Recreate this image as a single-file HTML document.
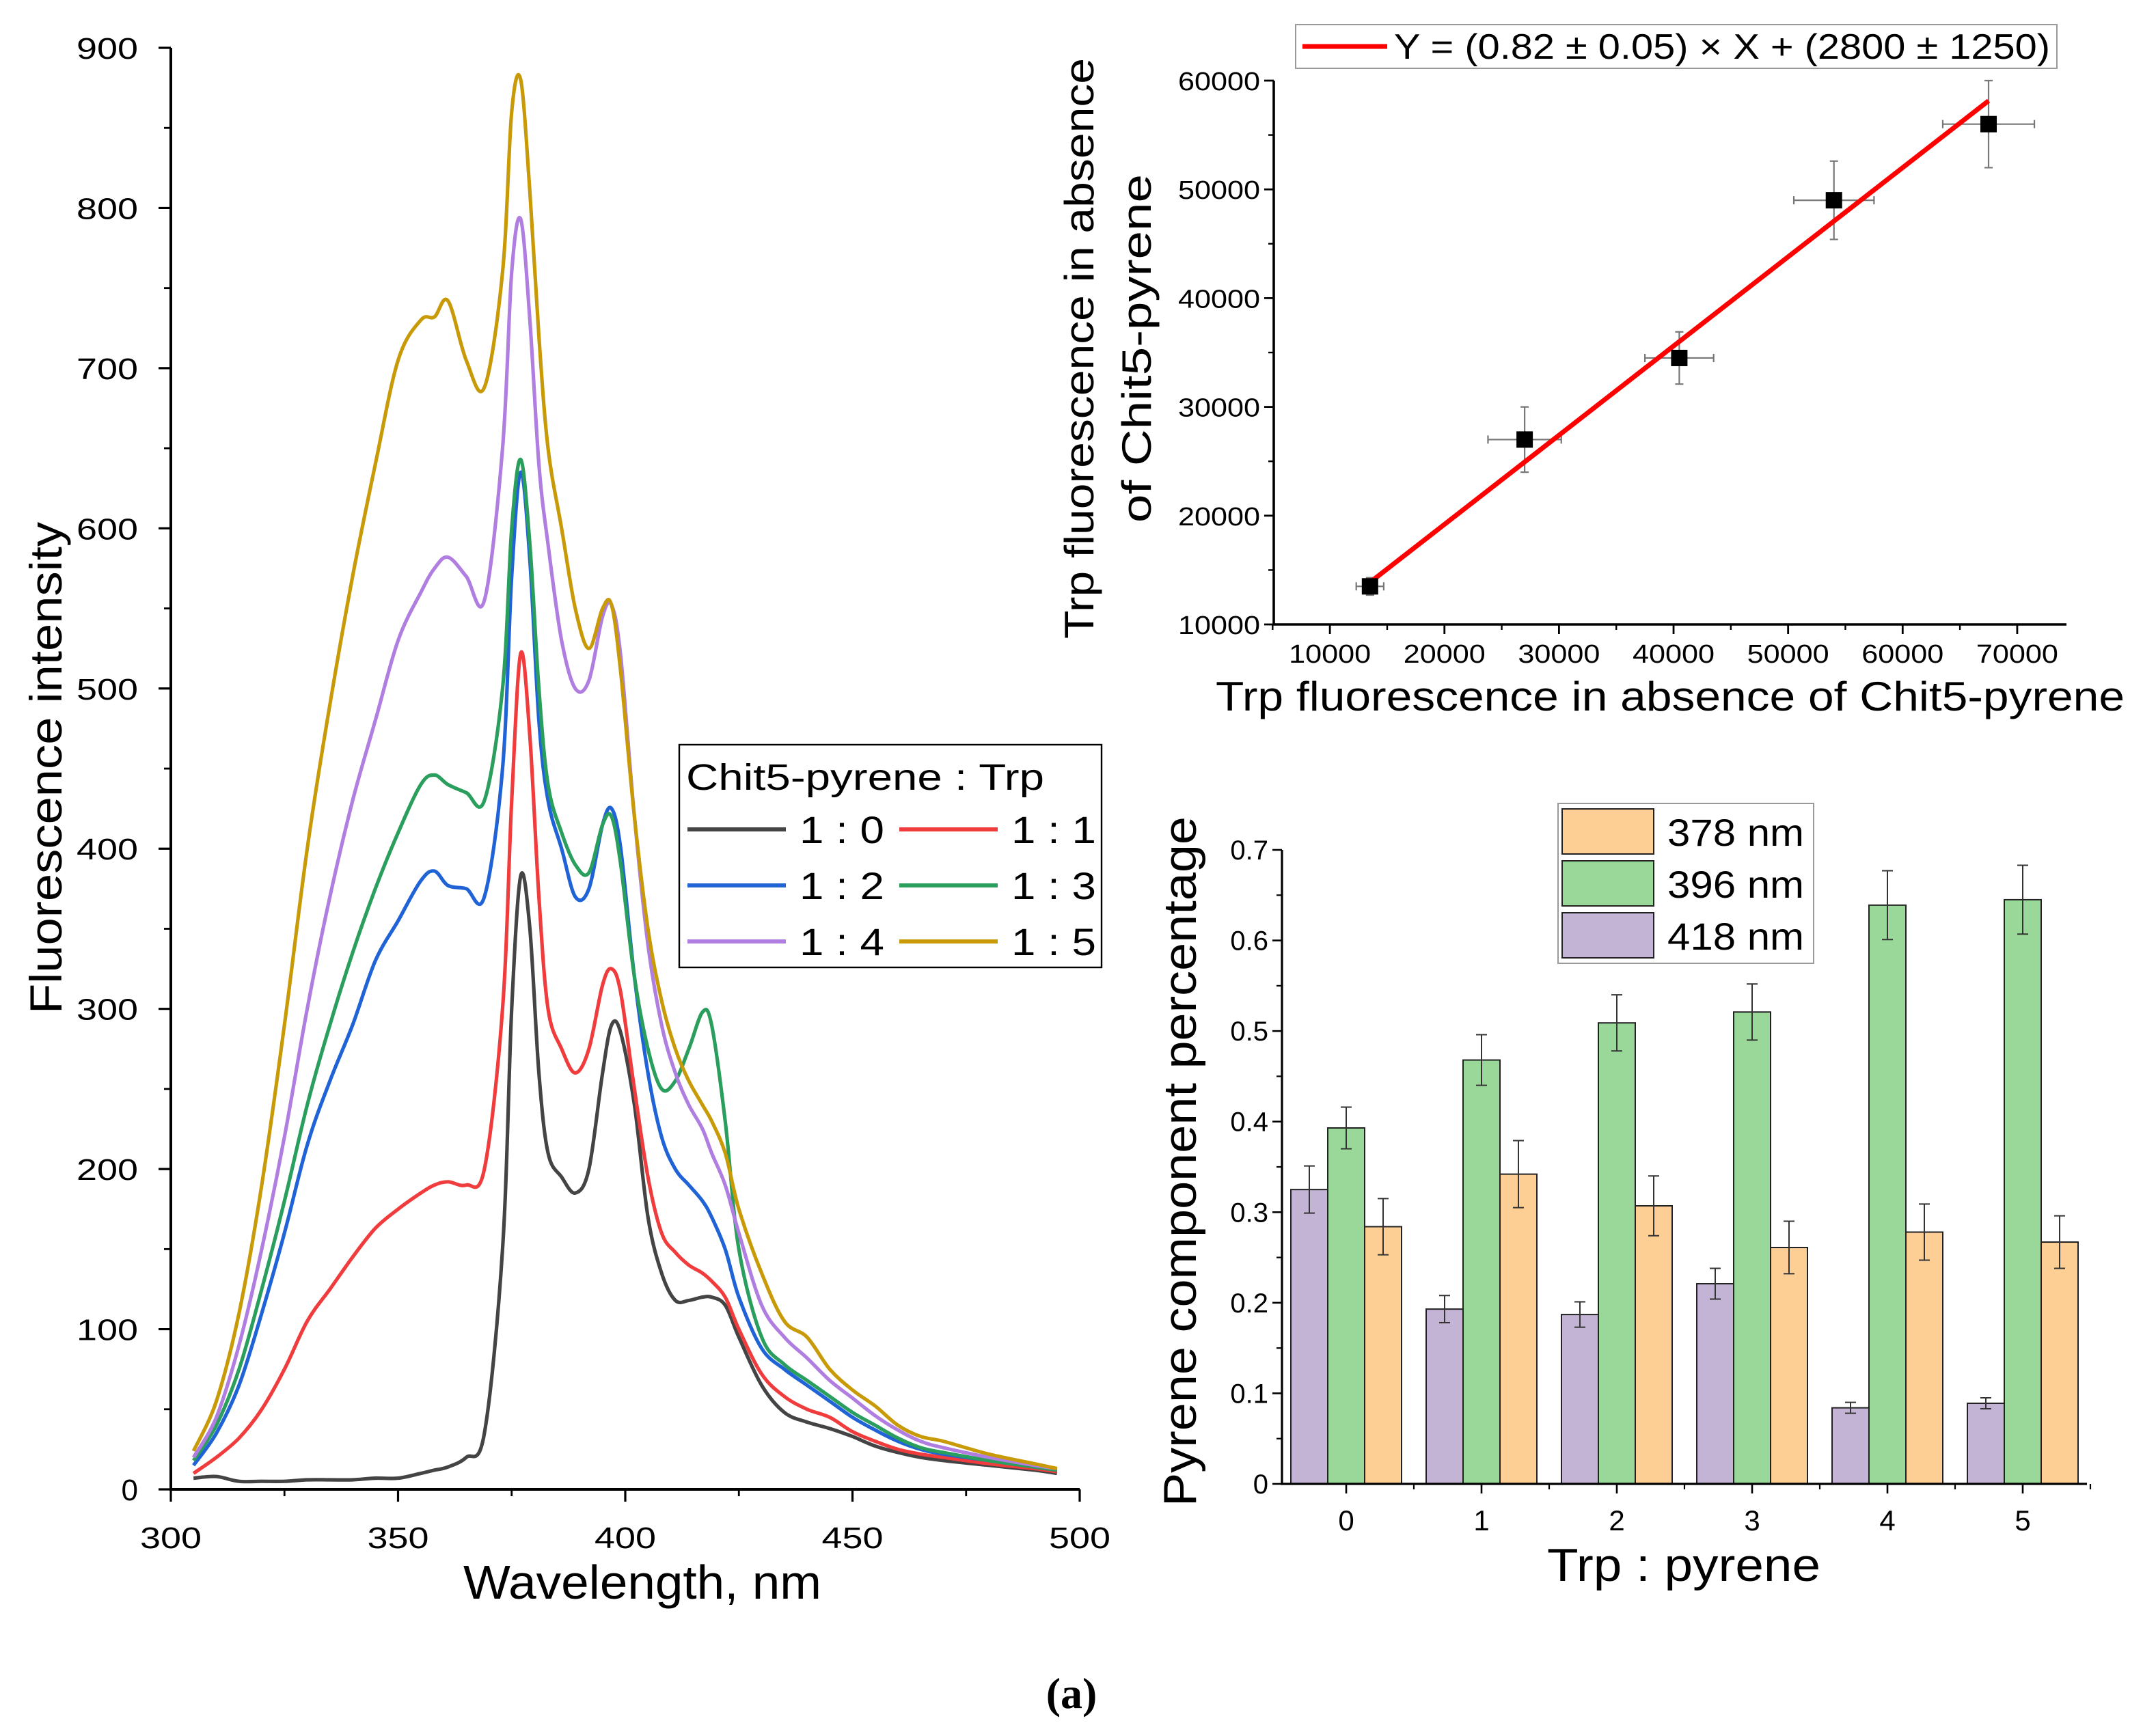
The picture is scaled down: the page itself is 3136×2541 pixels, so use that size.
<!DOCTYPE html>
<html><head><meta charset="utf-8"><style>
html,body{margin:0;padding:0;background:#fff;}
svg{display:block;font-family:"Liberation Sans",Arial,sans-serif;}
</style></head><body>
<svg id="fig" width="3136" height="2541" viewBox="0 0 1568 1270.5" xmlns="http://www.w3.org/2000/svg">
<rect x="0" y="0" width="1568" height="1270.5" fill="#fff"/>
<g id="spec"></g>
<g id="scat"></g>
<g id="bars"></g>
<text x="784" y="1250" text-anchor="middle" font-family="Liberation Serif,serif" font-weight="bold" font-size="32">(a)</text>
</svg>
<script>
// ---------- Spectra data ----------
const wl = [305,310,315,320,325,330,335,340,345,350,355,358,361,365,369,373,375,377,379,381,383,386,389,392,395,397,399,402,405,408,411,414,417,419,422,425,430,435,440,445,450,455,460,465,470,480,490,495];
const s10 = [7,8,5,5,5,6,6,6,7,7,10,12,14,20,35,150,300,383,350,260,210,195,185,200,260,290,285,240,170,135,118,118,120,120,115,95,65,48,42,38,33,27,23,20,18,15,12,10];
const s11 = [10,20,32,50,75,105,125,145,163,175,185,190,192,190,200,300,430,522,470,370,300,275,260,275,315,325,310,250,195,160,148,140,135,130,120,100,72,58,50,45,36,30,25,22,20,16,13,11];
const s12 = [15,35,65,110,160,215,255,290,330,355,380,386,377,375,370,450,570,635,580,480,430,400,370,375,415,425,400,320,260,220,200,190,180,170,150,120,88,75,65,55,45,37,30,25,22,18,14,12];
const s13 = [18,40,75,125,180,240,290,335,375,410,440,446,440,435,430,500,600,643,590,500,440,410,390,385,415,420,390,320,275,250,255,275,298,290,230,150,95,78,68,58,48,40,32,26,23,18,14,12];
const s14 = [20,45,90,150,220,300,370,430,480,530,560,575,582,570,555,650,760,793,730,640,590,530,500,505,545,552,520,420,340,290,260,240,225,210,190,160,115,95,82,68,57,46,37,30,26,20,15,13];
const s15 = [24,55,110,190,290,400,490,570,640,705,730,732,742,705,688,760,860,880,810,720,650,600,550,525,550,552,510,420,350,305,275,255,240,230,210,175,135,105,95,75,62,52,40,33,30,22,16,13];
const specNames = ["1 : 0","1 : 1","1 : 2","1 : 3","1 : 4","1 : 5"];
const specColors = ["#444444","#f03c3c","#1f63d6","#2a9e5c","#b07ee0","#c99a08"];
const specTicksX = [300,350,400,450,500];
const specTicksY = [0,100,200,300,400,500,600,700,800,900];

// ---------- Scatter data ----------
const scX = [13500,27000,40500,54000,67500];
const scY = [13500,27000,34500,49000,56000];
const scXErr = [1200,3200,3000,3500,4000];
const scYErr = [800,3000,2400,3600,4000];
const fitSlope = [0.82];
const fitIntercept = [2800];
const scTicksX = [10000,20000,30000,40000,50000,60000,70000];
const scTicksY = [10000,20000,30000,40000,50000,60000];

// ---------- Bar data ----------
const barCats = ["0","1","2","3","4","5"];
const bar418 = [0.325,0.193,0.187,0.221,0.084,0.089];
const err418 = [0.026,0.015,0.014,0.017,0.006,0.006];
const bar396 = [0.393,0.468,0.509,0.521,0.639,0.645];
const err396 = [0.023,0.028,0.031,0.031,0.038,0.038];
const bar378 = [0.284,0.342,0.307,0.261,0.278,0.267];
const err378 = [0.031,0.037,0.033,0.029,0.031,0.029];
const barTicksY = [0,0.1,0.2,0.3,0.4,0.5,0.6,0.7];

const NS="http://www.w3.org/2000/svg";
function mk(parent,tag,attrs,text){const e=document.createElementNS(NS,tag);for(const k in attrs)e.setAttribute(k,attrs[k]);if(text!==undefined)e.textContent=text;parent.appendChild(e);return e;}
function smoothPath(P){
  let d=`M${P[0][0].toFixed(1)},${P[0][1].toFixed(1)}`;
  for(let i=0;i<P.length-1;i++){
    const p0=P[Math.max(0,i-1)],p1=P[i],p2=P[i+1],p3=P[Math.min(P.length-1,i+2)];
    const c1x=p1[0]+(p2[0]-p0[0])/6,c1y=p1[1]+(p2[1]-p0[1])/6;
    const c2x=p2[0]-(p3[0]-p1[0])/6,c2y=p2[1]-(p3[1]-p1[1])/6;
    d+=` C${c1x.toFixed(1)},${c1y.toFixed(1)} ${c2x.toFixed(1)},${c2y.toFixed(1)} ${p2[0].toFixed(1)},${p2[1].toFixed(1)}`;
  }
  return d;
}

// ===== Spectra chart =====
(function(){
const g=document.getElementById('spec');
const X0=125,X1=790,Y0=1090,Y1=35;
const sx=v=>X0+(v-300)/200*(X1-X0);
const sy=v=>Y0-(v/900)*(Y0-Y1);
const series=[s10,s11,s12,s13,s14,s15];
series.forEach((s,i)=>{
  const P=wl.map((w,j)=>[sx(w),sy(s[j])]);
  const p=mk(g,'path',{d:smoothPath(P),fill:'none',stroke:specColors[i],'stroke-width':2.6,'stroke-linejoin':'round'});
  
  
});
const ax=mk(g,'path',{d:`M${X0},${Y1} V${Y0} H${X1}`,fill:'none',stroke:'#000','stroke-width':2});


specTicksY.forEach(v=>{
  mk(g,'line',{x1:X0-9,x2:X0,y1:sy(v),y2:sy(v),stroke:'#000','stroke-width':1.6});
  if(v<900) mk(g,'line',{x1:X0-5,x2:X0,y1:sy(v+50),y2:sy(v+50),stroke:'#000','stroke-width':1.4});
  const a={x:X0-24,y:sy(v)+8,'text-anchor':'end','font-size':22};
  if(v>0){a.textLength=45;a.lengthAdjust='spacingAndGlyphs';}
  const t=mk(g,'text',a,String(v));
  
  
});
specTicksX.forEach(v=>{
  mk(g,'line',{x1:sx(v),x2:sx(v),y1:Y0,y2:Y0+9,stroke:'#000','stroke-width':1.6});
  if(v<500) mk(g,'line',{x1:sx(v+25),x2:sx(v+25),y1:Y0,y2:Y0+5,stroke:'#000','stroke-width':1.4});
  const t=mk(g,'text',{x:sx(v),y:Y0+43,'text-anchor':'middle','font-size':22,textLength:45,lengthAdjust:'spacingAndGlyphs'},String(v));
  
  
});
const xt=mk(g,'text',{x:470,y:1170,'text-anchor':'middle','font-size':35,textLength:262,lengthAdjust:'spacingAndGlyphs'},'Wavelength, nm');


const yt=mk(g,'text',{x:0,y:0,'text-anchor':'middle','font-size':33,transform:'translate(45,562) rotate(-90)',textLength:360,lengthAdjust:'spacingAndGlyphs'},'Fluorescence intensity');


// legend
const lg=mk(g,'g',{});


mk(lg,'rect',{x:497,y:545,width:309,height:163,fill:'#fff',stroke:'#000','stroke-width':1.2});
mk(lg,'text',{x:502,y:578,'font-size':27,textLength:262,lengthAdjust:'spacingAndGlyphs'},'Chit5-pyrene : Trp');
const rows=[607,648,689];
specNames.forEach((n,i)=>{
  const r=Math.floor(i/2),c=i%2;
  const lx=c?658:503, tx=c?740:585, y=rows[r];
  const ln=mk(lg,'line',{x1:lx,x2:lx+72,y1:y,y2:y,stroke:specColors[i],'stroke-width':3});
  
  
  const t=mk(lg,'text',{x:tx,y:y+10,'font-size':28,textLength:62,lengthAdjust:'spacingAndGlyphs'},n);
  
  
});
})();

// ===== Scatter chart =====
(function(){
const g=document.getElementById('scat');
const X0=932,X1=1512,Y0=457,Y1=59;
const xmin=5100,xmax=74300,ymin=10000,ymax=60000;
const sx=v=>X0+(v-xmin)/(xmax-xmin)*(X1-X0);
const sy=v=>Y0-(v-ymin)/(ymax-ymin)*(Y0-Y1);
const ax=mk(g,'path',{d:`M${X0},${Y1} V${Y0} H${X1}`,fill:'none',stroke:'#000','stroke-width':1.8});


scTicksY.forEach(v=>{
  mk(g,'line',{x1:X0-7,x2:X0,y1:sy(v),y2:sy(v),stroke:'#000','stroke-width':1.4});
  if(v<60000) mk(g,'line',{x1:X0-4,x2:X0,y1:sy(v+5000),y2:sy(v+5000),stroke:'#000','stroke-width':1.2});
  const t=mk(g,'text',{x:X0-10,y:sy(v)+7,'text-anchor':'end','font-size':19,textLength:60,lengthAdjust:'spacingAndGlyphs'},String(v));
  
  
});
scTicksX.forEach(v=>{
  mk(g,'line',{x1:sx(v),x2:sx(v),y1:Y0,y2:Y0+7,stroke:'#000','stroke-width':1.4});
  mk(g,'line',{x1:sx(v-5000),x2:sx(v-5000),y1:Y0,y2:Y0+4,stroke:'#000','stroke-width':1.2});
  const t=mk(g,'text',{x:sx(v),y:Y0+28,'text-anchor':'middle','font-size':19,textLength:60,lengthAdjust:'spacingAndGlyphs'},String(v));
  
  
});
scX.forEach((x,i)=>{
  const y=scY[i];
  const e=mk(g,'path',{d:`M${sx(x-scXErr[i])},${sy(y)} H${sx(x+scXErr[i])} M${sx(x-scXErr[i])},${sy(y)-3} v6 M${sx(x+scXErr[i])},${sy(y)-3} v6 M${sx(x)},${sy(y-scYErr[i])} V${sy(y+scYErr[i])} M${sx(x)-3},${sy(y-scYErr[i])} h6 M${sx(x)-3},${sy(y+scYErr[i])} h6`,stroke:'#777',fill:'none','stroke-width':1.1});
  
  
});
const fx0=scX[0],fx1=scX[scX.length-1];
const fl=mk(g,'line',{x1:sx(fx0),y1:sy(fitSlope[0]*fx0+fitIntercept[0]),x2:sx(fx1),y2:sy(fitSlope[0]*fx1+fitIntercept[0]),stroke:'#f00','stroke-width':3.5});


scX.forEach((x,i)=>{
  const p=mk(g,'rect',{x:sx(x)-6,y:sy(scY[i])-6,width:12,height:12,fill:'#000'});
  
  
});
const yt=mk(g,'text',{x:0,y:0,'text-anchor':'middle','font-size':30,transform:'translate(800,255) rotate(-90)',textLength:425,lengthAdjust:'spacingAndGlyphs'},'Trp fluorescence in absence');


const yt2=mk(g,'text',{x:0,y:0,'text-anchor':'middle','font-size':30,transform:'translate(842,255) rotate(-90)',textLength:255,lengthAdjust:'spacingAndGlyphs'},'of Chit5-pyrene');


const xt=mk(g,'text',{x:1222,y:520,'text-anchor':'middle','font-size':30,textLength:665,lengthAdjust:'spacingAndGlyphs'},'Trp fluorescence in absence of Chit5-pyrene');


const lg=mk(g,'g',{});


mk(lg,'rect',{x:948,y:18,width:557,height:32,fill:'#fff',stroke:'#999','stroke-width':1});
mk(lg,'line',{x1:953,x2:1015,y1:34,y2:34,stroke:'#f00','stroke-width':3.5});
mk(lg,'text',{x:1020,y:43,'font-size':26,textLength:480,lengthAdjust:'spacingAndGlyphs'},'Y = (0.82 ± 0.05) × X + (2800 ± 1250)');
})();

// ===== Bar chart =====
(function(){
const g=document.getElementById('bars');
const X0=938,X1=1527,Y0=1086,Y1=622;
const sx=c=>985+c*99;
const sy=v=>Y0-v/0.7*(Y0-Y1);
const bw=27;
const groups=[[bar418,err418,'#c3b4d6',-1,'418'],[bar396,err396,'#9ad89a',0,'396'],[bar378,err378,'#fdcf95',1,'378']];
barCats.forEach((c,i)=>{
  groups.forEach(gr=>{
    const cx=sx(i)+gr[3]*bw, v=gr[0][i], e=gr[1][i];
    const r=mk(g,'rect',{x:cx-bw/2,y:sy(v),width:bw,height:Y0-sy(v),fill:gr[2],stroke:'#222','stroke-width':1});
    
    
    const eb=mk(g,'path',{d:`M${cx},${sy(v-e)} V${sy(v+e)} M${cx-4},${sy(v-e)} h8 M${cx-4},${sy(v+e)} h8`,stroke:'#333',fill:'none','stroke-width':1});
    
    
  });
  mk(g,'line',{x1:sx(i),x2:sx(i),y1:Y0,y2:Y0+7,stroke:'#000','stroke-width':1.3});
  mk(g,'line',{x1:sx(i)+49.5,x2:sx(i)+49.5,y1:Y0,y2:Y0+4,stroke:'#000','stroke-width':1.1});
  const t=mk(g,'text',{x:sx(i),y:Y0+34,'text-anchor':'middle','font-size':21},c);
  
  
});
const ax=mk(g,'path',{d:`M${X0},${Y1} V${Y0} H${X1}`,fill:'none',stroke:'#000','stroke-width':1.6});


barTicksY.forEach(v=>{
  mk(g,'line',{x1:X0-7,x2:X0,y1:sy(v),y2:sy(v),stroke:'#000','stroke-width':1.3});
  if(v<0.7) mk(g,'line',{x1:X0-4,x2:X0,y1:sy(v+0.05),y2:sy(v+0.05),stroke:'#000','stroke-width':1.1});
  const t=mk(g,'text',{x:X0-10,y:sy(v)+7,'text-anchor':'end','font-size':20},v===0?'0':String(+v.toFixed(1)));
  
  
});
const yt=mk(g,'text',{x:0,y:0,'text-anchor':'middle','font-size':34,transform:'translate(875,850) rotate(-90)',textLength:505,lengthAdjust:'spacingAndGlyphs'},'Pyrene component percentage');


const xt=mk(g,'text',{x:1232,y:1157,'text-anchor':'middle','font-size':34,textLength:200,lengthAdjust:'spacingAndGlyphs'},'Trp : pyrene');


const lg=mk(g,'g',{});


mk(lg,'rect',{x:1140,y:588,width:187,height:117,fill:'#fff',stroke:'#999','stroke-width':1});
[['378 nm','#fdcf95',592],['396 nm','#9ad89a',630],['418 nm','#c3b4d6',668]].forEach(e=>{
  mk(lg,'rect',{x:1143,y:e[2],width:67,height:33,fill:e[1],stroke:'#222','stroke-width':1});
  const t=mk(lg,'text',{x:1220,y:e[2]+27,'font-size':28,textLength:100,lengthAdjust:'spacingAndGlyphs'},e[0]);
  
  
});
})();
</script>
</body></html>
